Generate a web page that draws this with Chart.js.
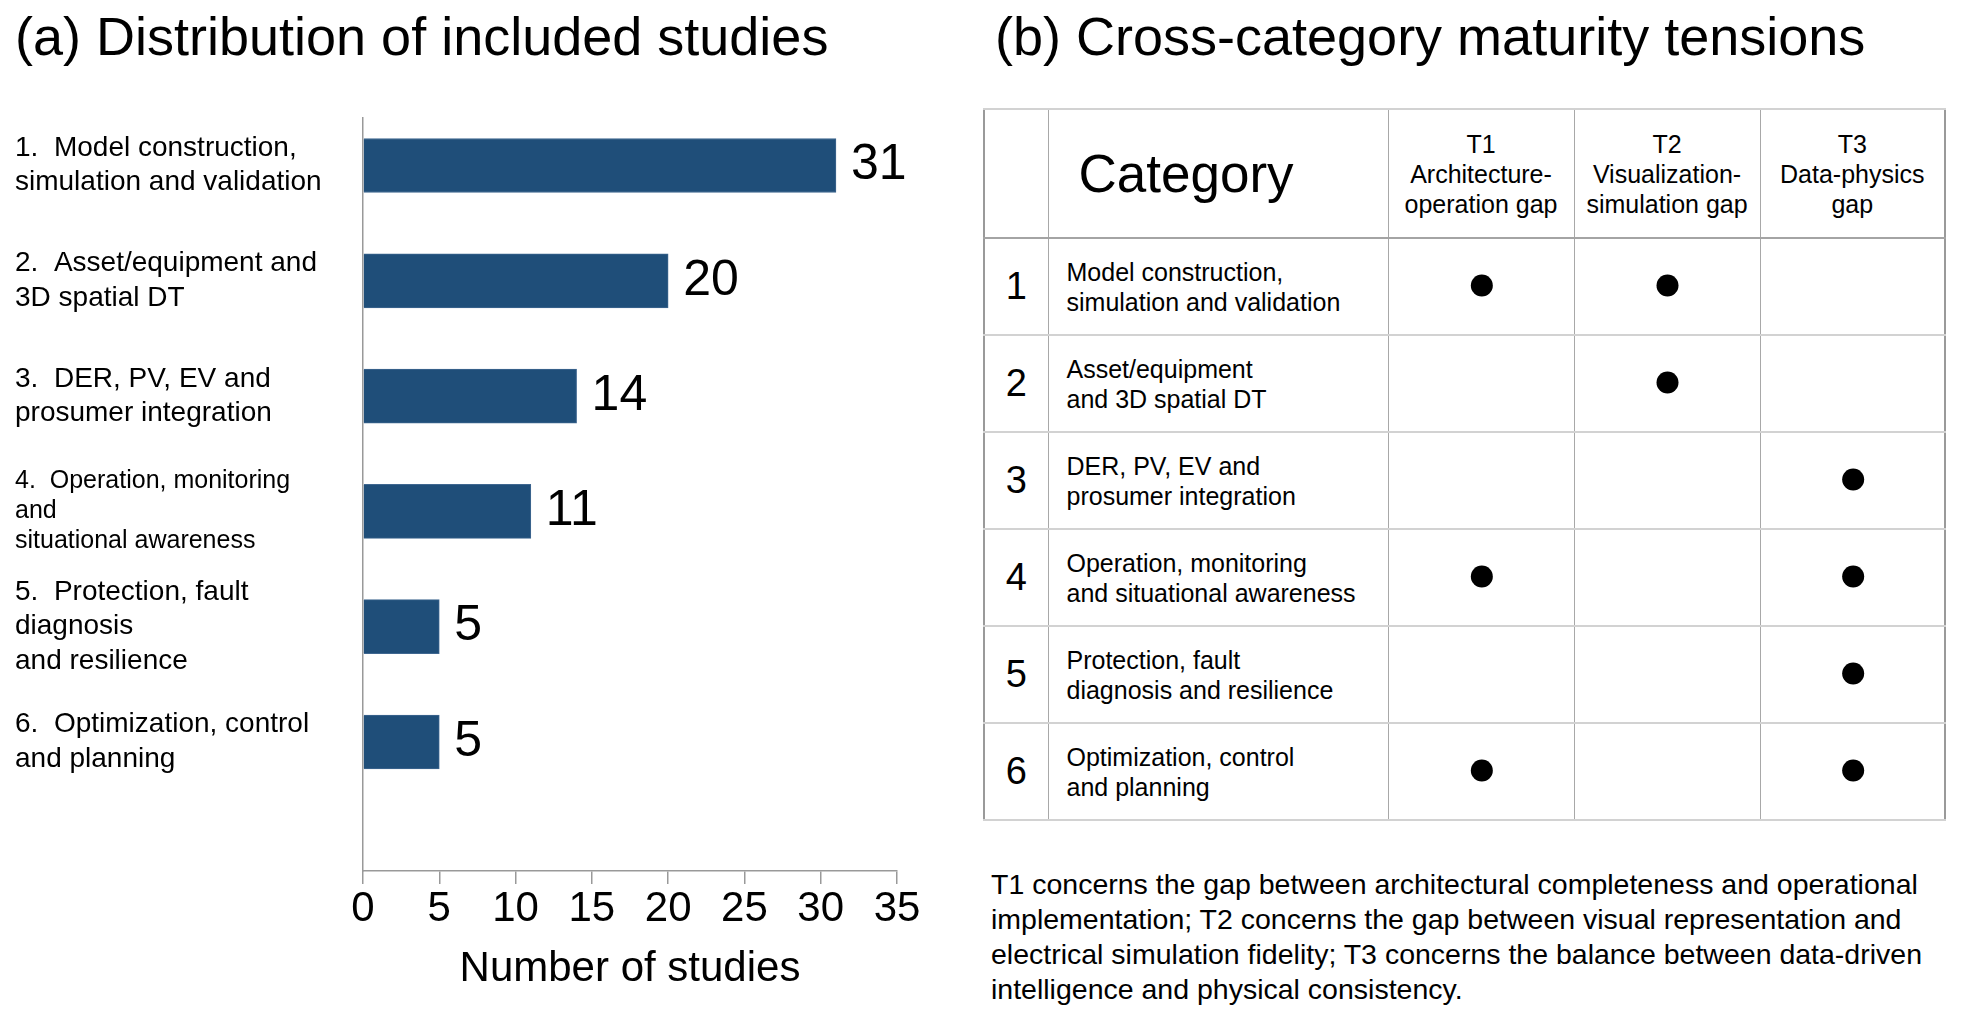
<!DOCTYPE html>
<html>
<head>
<meta charset="utf-8">
<script src="https://cdn.jsdelivr.net/npm/chart.js@4.4.1/dist/chart.umd.min.js"></script>
<style>
  html, body { margin: 0; padding: 0; background: #fff; }
  body { width: 1961px; height: 1018px; position: relative; overflow: hidden;
         font-family: "Liberation Sans", Arial, sans-serif; color: #000; }
  .title { position: absolute; top: 9px; font-size: 54px; line-height: 54px; white-space: nowrap; }
  #barCanvas { position: absolute; left: 0; top: 0; }
  #dotCanvas { position: absolute; left: 1389px; top: 237px; z-index: 2; }
  table { position: absolute; left: 983px; top: 108px; width: 961px;
          border-collapse: collapse; table-layout: fixed; border: 2px solid #9a9a9a; }
  td { border-left: 1px solid #a8a8a8; border-right: 1px solid #a8a8a8;
       border-top: 2px solid #d2d2d2; border-bottom: 2px solid #d2d2d2; padding: 0; }
  tr.head td { height: 127px; border-bottom: 2px solid #a4a4a4; text-align: center;
               font-size: 25px; line-height: 30px; vertical-align: middle; }
  tr.head td.cathead { text-align: left; padding-left: 30px; font-size: 53px; line-height: 60px; }
  tr.body td { height: 95px; vertical-align: middle; }
  td.num { text-align: center; font-size: 38px; }
  td.txt { padding-left: 18px; font-size: 25px; line-height: 30px; }
  #note { position: absolute; left: 991px; top: 867px; font-size: 28.5px; line-height: 35px; white-space: nowrap; }
</style>
</head>
<body>
<div class="title" style="left:15px">(a) Distribution of included studies</div>
<div class="title" style="left:995px">(b) Cross-category maturity tensions</div>
<canvas id="barCanvas" width="980" height="1018"></canvas>
<table id="tensionTable"></table>
<canvas id="dotCanvas" width="557" height="582"></canvas>
<div id="note"></div>
<script>
// (a) studies per category
const categoryLabels = [
  ['1.  Model construction,', 'simulation and validation'],
  ['2.  Asset/equipment and', '3D spatial DT'],
  ['3.  DER, PV, EV and', 'prosumer integration'],
  ['4.  Operation, monitoring', 'and', 'situational awareness'],
  ['5.  Protection, fault', 'diagnosis', 'and resilience'],
  ['6.  Optimization, control', 'and planning']
];
const studyCounts = [31, 20, 14, 11, 5, 5];
const xTicks = [0, 5, 10, 15, 20, 25, 30, 35];

// (b) tension table
const rowNumbers = [1, 2, 3, 4, 5, 6];
const rowNames = [
  ['Model construction,', 'simulation and validation'],
  ['Asset/equipment', 'and 3D spatial DT'],
  ['DER, PV, EV and', 'prosumer integration'],
  ['Operation, monitoring', 'and situational awareness'],
  ['Protection, fault', 'diagnosis and resilience'],
  ['Optimization, control', 'and planning']
];
const tensionHeads = [
  ['T1', 'Architecture-', 'operation gap'],
  ['T2', 'Visualization-', 'simulation gap'],
  ['T3', 'Data-physics', 'gap']
];
const t1Rows = [1, 4, 6];
const t2Rows = [1, 2];
const t3Rows = [3, 4, 5, 6];
const noteLines = [
  'T1 concerns the gap between architectural completeness and operational',
  'implementation; T2 concerns the gap between visual representation and',
  'electrical simulation fidelity; T3 concerns the balance between data-driven',
  'intelligence and physical consistency.'
];

const FONT = '"Liberation Sans", Arial, sans-serif';

const valueLabels = {
  id: 'valueLabels',
  afterDatasetsDraw(chart) {
    const ctx = chart.ctx;
    const meta = chart.getDatasetMeta(0);
    ctx.save();
    ctx.font = '50px ' + FONT;
    ctx.fillStyle = '#000';
    ctx.textBaseline = 'middle';
    ctx.textAlign = 'left';
    meta.data.forEach((bar, i) => {
      ctx.fillText(String(studyCounts[i]), bar.x + 15, bar.y);
    });
    ctx.restore();
  }
};

new Chart(document.getElementById('barCanvas'), {
  type: 'bar',
  data: {
    datasets: [{
      data: studyCounts.map((v, i) => ({ x: v, y: i })),
      backgroundColor: '#1f4e79',
      borderColor: '#3f6790',
      borderWidth: 1,
      barThickness: 54
    }]
  },
  options: {
    indexAxis: 'y',
    responsive: false,
    animation: false,
    layout: { padding: { left: 15, top: 118, right: 83, bottom: 0 }, autoPadding: false },
    plugins: { legend: { display: false }, tooltip: { enabled: false } },
    scales: {
      x: {
        type: 'linear', min: 0, max: 35,
        afterBuildTicks: s => { s.ticks = xTicks.map(v => ({ value: v })); },
        afterFit: s => { s.height = 147; },
        border: { display: true, color: '#999', width: 1.5 },
        grid: { display: true, drawOnChartArea: false, drawTicks: true, tickLength: 13, color: '#999', lineWidth: 1.5 },
        ticks: { color: '#000', padding: 0, font: { size: 42, family: FONT } },
        title: { display: true, text: 'Number of studies', color: '#000',
                 font: { size: 42, family: FONT }, padding: { top: 0, bottom: 23 } }
      },
      y: {
        type: 'linear', min: -0.412, max: 6.119, reverse: true, offset: false,
        afterBuildTicks: s => { s.ticks = categoryLabels.map((l, i) => ({ value: i })); },
        afterFit: s => { s.width = 348; s.paddingTop = 0; s.paddingBottom = 0; },
        border: { display: true, color: '#999', width: 1.5 },
        grid: { display: false, offset: false },
        ticks: {
          color: '#000', crossAlign: 'far', autoSkip: false,
          callback: v => categoryLabels[v],
          font: c => c.index === 3 ? { size: 25, family: FONT, lineHeight: 1.2 }
                                   : { size: 28, family: FONT, lineHeight: 1.23 }
        }
      }
    }
  },
  plugins: [valueLabels]
});

// table text
const table = document.getElementById('tensionTable');
let html = '<colgroup><col style="width:64px"><col style="width:340px"><col style="width:186px"><col style="width:186px"><col style="width:185px"></colgroup>';
html += '<tr class="head"><td></td><td class="cathead">Category</td>' +
  tensionHeads.map(h => '<td>' + h.join('<br>') + '</td>').join('') + '</tr>';
rowNumbers.forEach((n, i) => {
  html += '<tr class="body"><td class="num">' + n + '</td><td class="txt">' +
    rowNames[i].join('<br>') + '</td><td></td><td></td><td></td></tr>';
});
table.innerHTML = html;
document.getElementById('note').innerHTML = noteLines.join('<br>');

// dots of the tension matrix
const toPoints = (rows, col) => rows.map(r => ({ x: col, y: r }));
new Chart(document.getElementById('dotCanvas'), {
  type: 'scatter',
  data: {
    datasets: [
      { data: toPoints(t1Rows, 1) },
      { data: toPoints(t2Rows, 2) },
      { data: toPoints(t3Rows, 3) }
    ].map(d => Object.assign(d, { backgroundColor: '#000', borderWidth: 0, pointRadius: 11 }))
  },
  options: {
    responsive: false,
    animation: false,
    layout: { padding: 0, autoPadding: false },
    plugins: { legend: { display: false }, tooltip: { enabled: false } },
    scales: {
      x: { type: 'linear', min: 0.5, max: 3.5, display: false },
      y: { type: 'linear', min: 0.5, max: 6.5, reverse: true, display: false }
    }
  }
});
</script>
</body>
</html>
